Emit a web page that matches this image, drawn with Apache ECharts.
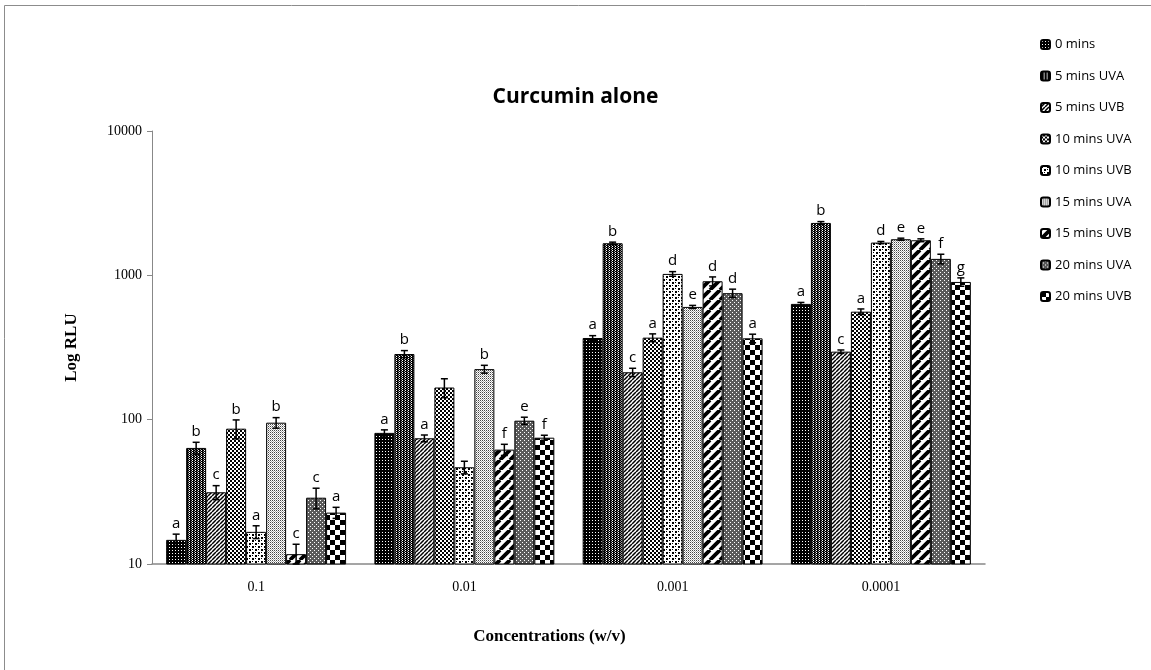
<!DOCTYPE html>
<html>
<head>
<meta charset="utf-8">
<title>Curcumin alone</title>
<script src="https://cdn.jsdelivr.net/npm/echarts@6/dist/echarts.min.js"></script>
<style>
  html, body { margin: 0; padding: 0; background: #fff; }
  #chart { width: 1151px; height: 670px; }
</style>
</head>
<body>
<div id="chart"></div>
<script>
'use strict';

// concentrations (w/v)
var categories = ['0.1', '0.01', '0.001', '0.0001'];
var seriesNames = ['0 mins', '5 mins UVA', '5 mins UVB', '10 mins UVA', '10 mins UVB',
  '15 mins UVA', '15 mins UVB', '20 mins UVA', '20 mins UVB'];

// mean RLU, one array per exposure, in category order
var mins0    = [14.7, 81, 368, 634];
var uva5     = [63.7, 285, 1668, 2307];
var uvb5     = [31.4, 74.3, 213, 296];
var uva10    = [86.6, 167, 370, 560];
var uvb10    = [16.7, 46.8, 1023, 1686];
var uva15    = [95.3, 224, 604, 1779];
var uvb15    = [11.7, 62, 910, 1750];
var uva20    = [28.8, 98.4, 752, 1300];
var uvb20    = [22.7, 75, 366, 900];

// error bar half widths
var mins0Err = [1.4, 4, 14, 15];
var uva5Err  = [6, 16, 30, 50];
var uvb5Err  = [3.5, 4, 14, 8];
var uva10Err = [13, 25, 23, 25];
var uvb10Err = [1.7, 4.7, 38, 30];
var uva15Err = [8, 14, 15, 30];
var uvb15Err = [2, 5.5, 65, 40];
var uva20Err = [4.7, 5.6, 50, 100];
var uvb20Err = [2, 3, 25, 60];

// significance letters
var mins0Let = ['a', 'a', 'a', 'a'];
var uva5Let  = ['b', 'b', 'b', 'b'];
var uvb5Let  = ['c', 'a', 'c', 'c'];
var uva10Let = ['b', '', 'a', 'a'];
var uvb10Let = ['a', '', 'd', 'd'];
var uva15Let = ['b', 'b', 'e', 'e'];
var uvb15Let = ['c', 'f', 'd', 'e'];
var uva20Let = ['c', 'e', 'd', 'f'];
var uvb20Let = ['a', 'f', 'a', 'g'];

var yTicks = [10, 100, 1000, 10000];

var allValues = [mins0, uva5, uvb5, uva10, uvb10, uva15, uvb15, uva20, uvb20];
var allErrors = [mins0Err, uva5Err, uvb5Err, uva10Err, uvb10Err, uva15Err, uvb15Err, uva20Err, uvb20Err];
var allLetters = [mins0Let, uva5Let, uvb5Let, uva10Let, uvb10Let, uva15Let, uvb15Let, uva20Let, uvb20Let];

var CAT_GAP = 0.136;

// small black & white fill patterns, like the excel ones
function tile(w, h, bg, draw) {
  var c = document.createElement('canvas');
  c.width = w; c.height = h;
  var ctx = c.getContext('2d');
  ctx.fillStyle = bg;
  ctx.fillRect(0, 0, w, h);
  draw(ctx, w, h);
  return { image: c, repeat: 'repeat' };
}
function px(list, color) {
  return function(ctx){
    list.forEach(function(p){
      ctx.fillStyle = p[4] || color;
      ctx.fillRect(p[0], p[1], p[2] || 1, p[3] || 1);
    });
  };
}
function diag(lw) {
  return function(ctx, w, h){
    ctx.strokeStyle = '#000';
    ctx.lineWidth = lw;
    ctx.beginPath();
    for (var k = -1; k <= 1; k++) {
      ctx.moveTo(k * w, h);
      ctx.lineTo(k * w + w, 0);
    }
    ctx.stroke();
  };
}

var patterns = [
  tile(3, 3, '#000', px([[1, 1]], '#fff')),
  tile(3, 2, '#000', px([[0, 0], [2, 1, 1, 1, '#888']], '#fff')),
  tile(4, 4, '#fff', diag(1.5)),
  tile(4, 4, '#000', px([[0, 0, 2, 2], [2, 2, 2, 2]], '#fff')),
  tile(6, 6, '#fff', px([[0, 0, 2, 2], [3, 3, 2, 2], [0, 3], [3, 0]], '#000')),
  tile(2, 2, '#fff', px([[0, 0, 1, 1, '#444'], [1, 1, 1, 1, '#aaa']], '#000')),
  tile(10, 10, '#fff', diag(3.8)),
  tile(4, 4, '#5a5a5a', px([[0, 0], [2, 2]], '#fff')),
  tile(10, 10, '#fff', px([[0, 0, 5, 5], [5, 5, 5, 5]], '#000'))
];

var series = seriesNames.map(function(name, i){
  return {
    name: name,
    type: 'bar',
    data: allValues[i],
    barGap: '0%',
    barCategoryGap: (CAT_GAP * 100) + '%',
    itemStyle: { color: patterns[i], borderColor: '#000', borderWidth: 1 },
    z: 2
  };
});

var errData = [];
allValues.forEach(function(vals, si){
  vals.forEach(function(v, ci){
    errData.push([ci, v, allErrors[si][ci], si]);
  });
});

series.push({
  name: 'err',
  type: 'custom',
  data: errData,
  encode: { x: 0, y: 1 },
  z: 5,
  silent: true,
  renderItem: function(params, api){
    var ci = api.value(0), v = api.value(1), e = api.value(2), si = api.value(3);
    var band = api.coord([1, v])[0] - api.coord([0, v])[0];
    var groupW = band * (1 - CAT_GAP);
    var barW = groupW / seriesNames.length;
    var cx = api.coord([ci, v])[0] - groupW / 2 + barW * (si + 0.5);
    var yHi = api.coord([ci, v + e])[1];
    var yLo = api.coord([ci, Math.max(v - e, yTicks[0])])[1];
    var cap = 3.5;
    var lineStyle = { stroke: '#000', lineWidth: 1.5 };
    var kids = [
      { type: 'line', shape: { x1: cx, y1: yHi, x2: cx, y2: yLo }, style: lineStyle },
      { type: 'line', shape: { x1: cx - cap, y1: yHi, x2: cx + cap, y2: yHi }, style: lineStyle },
      { type: 'line', shape: { x1: cx - cap, y1: yLo, x2: cx + cap, y2: yLo }, style: lineStyle }
    ];
    var letter = allLetters[si][ci];
    if (letter) {
      kids.push({
        type: 'text',
        style: {
          text: letter, x: cx, y: yHi - 3,
          align: 'center', verticalAlign: 'bottom',
          fill: '#000', font: '15px "Open Sans"'
        }
      });
    }
    return { type: 'group', children: kids };
  }
});

var chart = echarts.init(document.getElementById('chart'));
chart.setOption({
  animation: false,
  backgroundColor: '#fff',
  title: {
    text: 'Curcumin alone',
    left: 'center',
    top: 82,
    textStyle: { fontFamily: 'Open Sans', fontWeight: 'bold', fontSize: 21, color: '#000' }
  },
  legend: {
    data: seriesNames,
    orient: 'vertical',
    left: 1040,
    top: 38,
    padding: 0,
    itemWidth: 9,
    itemHeight: 9,
    itemGap: 18.5,
    textStyle: { fontFamily: 'Open Sans', fontSize: 13, color: '#000' }
  },
  graphic: [{
    type: 'rect',
    shape: { x: 4.5, y: 5.5, width: 1200, height: 700 },
    style: { fill: null, stroke: '#8c8c8c', lineWidth: 1 },
    silent: true
  }],
  grid: { left: 152, right: 166, top: 131, bottom: 106 },
  xAxis: {
    type: 'category',
    data: categories,
    name: 'Concentrations (w/v)',
    nameLocation: 'middle',
    nameGap: 64,
    nameTextStyle: {
      fontFamily: 'Liberation Serif', fontWeight: 'bold', fontSize: 17, color: '#000',
      padding: [0, 38, 0, 0]
    },
    axisLine: { lineStyle: { color: '#888', width: 1.5 } },
    axisTick: { show: false },
    axisLabel: { margin: 16, fontFamily: 'Liberation Serif', fontSize: 14, color: '#000' }
  },
  yAxis: {
    type: 'log',
    logBase: 10,
    min: yTicks[0],
    max: yTicks[yTicks.length - 1],
    name: 'Log RLU',
    nameLocation: 'middle',
    nameGap: 72,
    nameTextStyle: { fontFamily: 'Liberation Serif', fontWeight: 'bold', fontSize: 17, color: '#000' },
    splitLine: { show: false },
    axisLine: { show: true, lineStyle: { color: '#888', width: 1 } },
    axisTick: { show: true, length: 5, lineStyle: { color: '#888' } },
    axisLabel: {
      margin: 10, fontFamily: 'Liberation Serif', fontSize: 14, color: '#000',
      formatter: function(v){ return String(Math.round(v)); }
    }
  },
  series: series
});
</script>
</body>
</html>
